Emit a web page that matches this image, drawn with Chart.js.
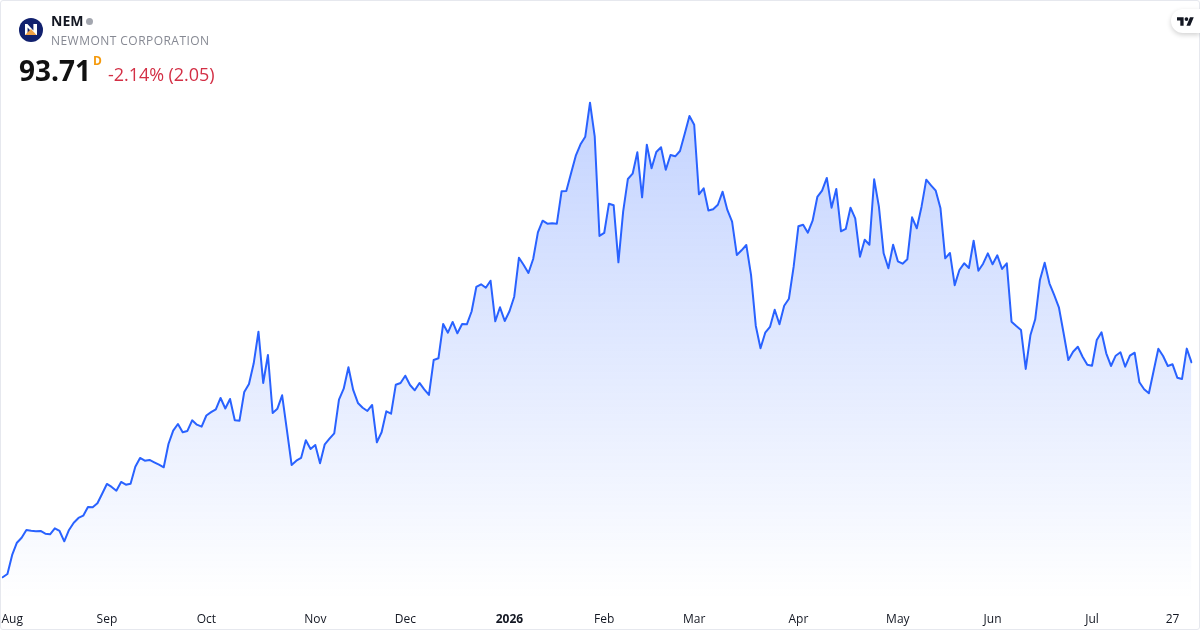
<!DOCTYPE html>
<html>
<head>
<meta charset="utf-8">
<title>NEM</title>
<script src="https://cdn.jsdelivr.net/npm/chart.js@4/dist/chart.umd.min.js"></script>
<style>
    html, body { margin: 0; padding: 0; background: #fff; }
    body { width: 1200px; height: 630px; position: relative; overflow: hidden; font-family: "Open Sans", sans-serif; }
    canvas { position: absolute; left: 0; top: 0; }
    .frame { position: absolute; left: 0; top: 0; width: 1198px; height: 628px; border: 1px solid #e6e8ee; border-radius: 3px; pointer-events: none; }
    .txt { position: absolute; white-space: nowrap; line-height: 1; }
    #symbol { left: 51px; top: 14px; font-size: 14px; font-weight: 700; color: #131722; }
    #dot { position: absolute; left: 86px; top: 18px; width: 7px; height: 7px; border-radius: 50%; background: #a3a6af; }
    #name { left: 51px; top: 35px; font-size: 12px; letter-spacing: 0.46px; color: #868993; }
    #price { left: 19px; top: 56px; font-size: 28px; font-weight: 700; color: #111; }
    #flag { left: 93px; top: 55px; font-size: 12px; font-weight: 700; color: #f59a0c; }
    #change { left: 108px; top: 65px; font-size: 18px; letter-spacing: -0.05px; color: #d32f45; }
    #logo { position: absolute; left: 19px; top: 18px; }
    #tvBadge { position: absolute; left: 1171px; top: 9px; width: 29px; height: 24px; background: #fff; border-radius: 12px 0 0 12px; box-shadow: 0 2px 5px rgba(0,0,0,0.18); }
    #tvBadge svg { position: absolute; left: 6px; top: 7px; }
</style>
</head>
<body>
<canvas id="chart" width="1200" height="630"></canvas>
<div class="frame"></div>
<svg id="logo" width="24" height="24" viewBox="0 0 24 24">
    <circle cx="12" cy="12" r="12" fill="#11206e"/>
    <path d="M6 17V6h2.4l6 6.6V6H18v11h-2.4L8.6 9.6V17z" fill="#fff"/>
    <path d="M6 17l6-6 5.5 6z" fill="#f0a146"/>
</svg>
<span class="txt" id="symbol">NEM</span><span id="dot"></span>
<span class="txt" id="name">NEWMONT CORPORATION</span>
<span class="txt" id="price">93.71</span>
<span class="txt" id="flag">D</span>
<span class="txt" id="change">-2.14% (2.05)</span>
<div id="tvBadge">
    <svg width="17" height="10" viewBox="0 0 36 20"><path d="M14 20H7V9H0V2h14v18zM28 20h-8l7.5-18h8L28 20z" fill="#131722"/><circle cx="20" cy="6" r="4" fill="#131722"/></svg>
</div>
<script>
// === DATA ===
const sessionMonths = ['2025-07', '2025-08', '2025-09', '2025-10', '2025-11', '2025-12', '2026-01', '2026-02', '2026-03', '2026-04', '2026-05', '2026-06', '2026-07'];
const sessionDays = [
    [31],
    [1, 4, 5, 6, 7, 8, 11, 12, 13, 14, 15, 18, 19, 20, 21, 22, 25, 26, 27, 28, 29],
    [2, 3, 4, 5, 8, 9, 10, 11, 12, 15, 16, 17, 18, 19, 22, 23, 24, 25, 26, 29, 30],
    [1, 2, 3, 6, 7, 8, 9, 10, 13, 14, 15, 16, 17, 20, 21, 22, 23, 24, 27, 28, 29, 30, 31],
    [3, 4, 5, 6, 7, 10, 11, 12, 13, 14, 17, 18, 19, 20, 21, 24, 25, 26, 28],
    [1, 2, 3, 4, 5, 8, 9, 10, 11, 12, 15, 16, 17, 18, 19, 22, 23, 24, 26, 29, 30, 31],
    [2, 5, 6, 7, 8, 9, 12, 13, 14, 15, 16, 20, 21, 22, 23, 26, 27, 28, 29, 30],
    [2, 3, 4, 5, 6, 9, 10, 11, 12, 13, 17, 18, 19, 20, 23, 24, 25, 26, 27],
    [2, 3, 4, 5, 6, 9, 10, 11, 12, 13, 16, 17, 18, 19, 20, 23, 24, 25, 26, 27, 30, 31],
    [1, 2, 6, 7, 8, 9, 10, 13, 14, 15, 16, 17, 20, 21, 22, 23, 24, 27, 28, 29, 30],
    [1, 4, 5, 6, 7, 8, 11, 12, 13, 14, 15, 18, 19, 20, 21, 22, 26, 27, 28, 29],
    [1, 2, 3, 4, 5, 8, 9, 10, 11, 12, 15, 16, 17, 18, 22, 23, 24, 25, 26, 29, 30],
    [1, 2, 6, 7, 8, 9, 10, 13, 14, 15, 16, 17, 20, 21, 22, 23, 24, 27, 28, 29, 30, 31]
];

const closes = [
    61.46, 61.96, 64.81, 66.65, 67.40, 68.56, 68.45, 68.36, 68.41, 68.00,
    67.91, 68.81, 68.41, 66.86, 68.56, 69.65, 70.36, 70.70, 72.01, 71.96,
    72.56, 74.00, 75.46, 75.01, 74.45, 75.76, 75.35, 75.50, 78.05, 79.36,
    78.95, 79.06, 78.71, 78.35, 77.96, 81.46, 83.45, 84.46, 83.21, 83.41,
    85.01, 84.35, 84.05, 85.73, 86.23, 86.66, 88.36, 86.78, 88.21, 85.01,
    84.95, 89.26, 90.46, 93.56, 98.30, 90.61, 94.81, 86.11, 86.75, 88.76,
    83.56, 78.31, 78.95, 79.36, 82.01, 80.71, 81.31, 78.56, 81.41, 82.25,
    83.06, 88.10, 89.75, 92.96, 89.56, 87.61, 86.90, 86.41, 87.31, 81.71,
    83.21, 86.36, 86.00, 90.35, 90.61, 91.70, 90.31, 89.51, 90.61, 89.66,
    88.81, 94.06, 94.31, 99.46, 98.15, 99.76, 98.06, 99.46, 99.41, 101.33,
    105.01, 105.41, 104.90, 105.95, 99.86, 101.96, 99.91, 101.36, 103.55, 109.40,
    108.31, 107.11, 109.21, 113.21, 114.95, 114.50, 114.56, 114.50, 119.36, 119.41,
    122.06, 124.70, 126.41, 127.55, 132.65, 127.55, 112.66, 113.11, 117.50, 117.26,
    108.71, 116.30, 121.21, 122.00, 125.21, 118.46, 126.35, 122.81, 125.26, 125.96,
    122.60, 124.81, 124.61, 125.41, 128.00, 130.66, 129.35, 118.91, 119.81, 116.48,
    116.68, 117.34, 119.30, 116.56, 114.80, 109.81, 110.51, 111.31, 106.81, 99.20,
    95.81, 98.15, 99.01, 101.60, 99.41, 102.20, 103.25, 108.05, 114.11, 114.35,
    113.15, 114.95, 118.51, 119.45, 121.36, 116.90, 119.71, 113.36, 113.71, 116.90,
    115.31, 109.55, 112.10, 111.35, 121.16, 117.05, 110.06, 107.81, 111.35, 108.86,
    108.50, 109.16, 115.46, 113.81, 117.05, 121.10, 120.26, 119.45, 116.81, 109.31,
    110.11, 105.28, 107.56, 108.56, 107.86, 111.94, 107.45, 108.50, 110.06, 108.41,
    109.76, 107.71, 108.56, 99.80, 99.16, 98.56, 92.71, 97.81, 100.16, 106.06,
    108.65, 105.56, 103.81, 101.96, 98.06, 94.06, 95.30, 96.05, 94.55, 93.35,
    93.20, 97.06, 98.21, 95.06, 93.16, 94.70, 95.21, 93.05, 94.70, 95.15,
    90.71, 89.66, 89.06, 92.41, 95.75, 94.66, 93.16, 93.41, 91.40, 91.21,
    95.76, 93.71
];

// "Aug" sits on the second August session so its text stays inside the card
const tickDates = ['2025-08-04', '2025-09-02', '2025-10-01', '2025-11-03', '2025-12-01', '2026-01-02', '2026-02-02', '2026-03-02', '2026-04-01', '2026-05-01', '2026-06-01', '2026-07-01', '2026-07-27'];
const tickLabels = ['Aug', 'Sep', 'Oct', 'Nov', 'Dec', '2026', 'Feb', 'Mar', 'Apr', 'May', 'Jun', 'Jul', '27'];

const categories = [];
sessionMonths.forEach((month, m) => {
    sessionDays[m].forEach(day => {
        categories.push(`${month}-${String(day).padStart(2, '0')}`);
    });
});

// === CHART ===
function areaGradient(context) {
    const { chart } = context;
    const { ctx, chartArea, scales } = chart;
    if (!chartArea) return 'rgba(41,98,255,0.28)';
    const top = scales.y.getPixelForValue(Math.max(...closes));
    const gradient = ctx.createLinearGradient(0, top, 0, chartArea.bottom);
    gradient.addColorStop(0, 'rgba(41,98,255,0.28)');
    gradient.addColorStop(1, 'rgba(41,98,255,0)');
    return gradient;
}

new Chart(document.getElementById('chart'), {
    type: 'line',
    data: {
        labels: categories,
        datasets: [{
            data: closes,
            borderColor: '#2962ff',
            borderWidth: 2,
            borderJoinStyle: 'round',
            borderCapStyle: 'round',
            backgroundColor: areaGradient,
            fill: 'start',
            pointRadius: 0,
            tension: 0
        }]
    },
    options: {
        responsive: false,
        animation: false,
        layout: { padding: { left: 2.7, right: 8.5, top: 0, bottom: 0 } },
        plugins: { legend: { display: false }, tooltip: { enabled: false } },
        scales: {
            y: {
                display: false,
                min: 58.055,
                max: 148.055
            },
            x: {
                grid: { display: false },
                border: { display: false },
                afterBuildTicks: scale => {
                    scale.ticks = tickDates.map(date => ({ value: categories.indexOf(date) }));
                },
                afterFit: scale => {
                    scale.height = 30;
                    scale.paddingLeft = 0;
                    scale.paddingRight = 0;
                },
                ticks: {
                    autoSkip: false,
                    maxRotation: 0,
                    padding: 4,
                    color: '#131722',
                    font: context => ({
                        family: '"Open Sans", sans-serif',
                        size: 12,
                        weight: tickLabels[context.index] === '2026' ? 'bold' : 'normal'
                    }),
                    callback: (value, index) => tickLabels[index]
                }
            }
        }
    }
});
</script>
</body>
</html>
